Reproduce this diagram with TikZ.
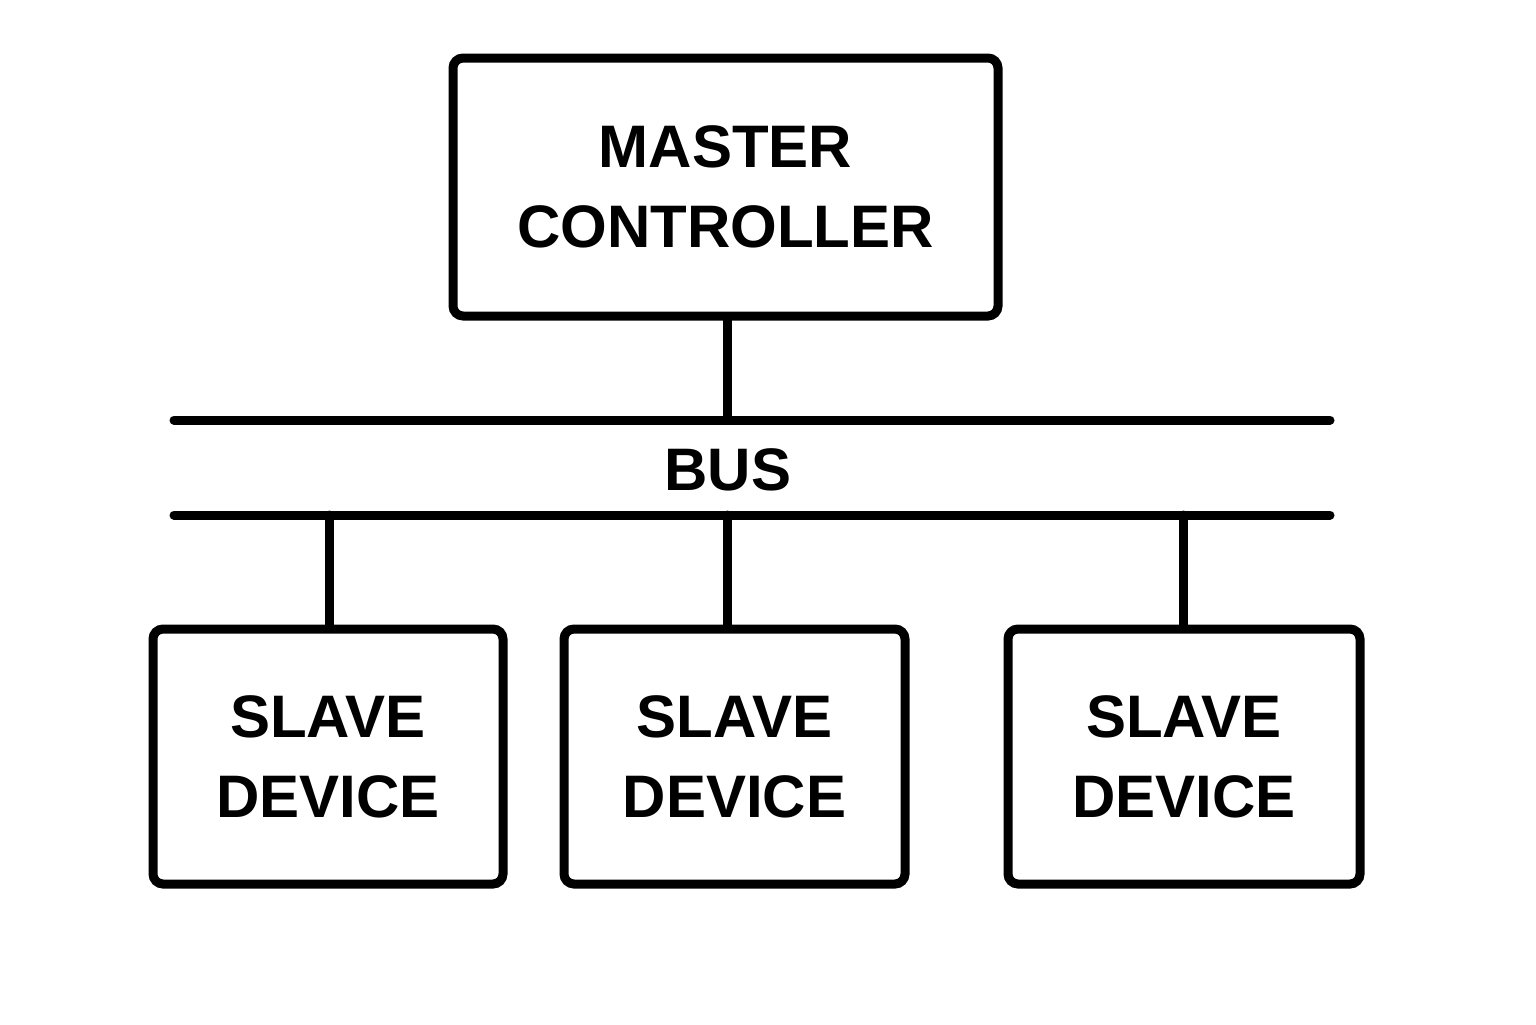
\documentclass[tikz,border=0pt]{standalone}
\usepackage{fontspec}
\setmainfont{Liberation Sans}
\begin{document}
\begin{tikzpicture}[x=0.5pt,y=-0.5pt,
  box/.style={draw,line width=4.5pt,rounded corners=5pt,inner sep=0pt},
  ln/.style={line width=4.5pt,line cap=round},
  lbl/.style={font=\fontsize{30}{40}\selectfont\bfseries,align=center}]
\useasboundingbox[fill=white] (0,0) rectangle (1536,1024);
\node[box,minimum width=545pt*0.5,minimum height=258pt*0.5] (m) at (725.5,187) {};
\node[lbl] (mt) at (725.5,187) {MASTER\\CONTROLLER};
\foreach \n/\x/\w in {s1/328/350,s2/734.5/341,s3/1184/352}{
  \node[box,minimum width=\w pt*0.5,minimum height=255pt*0.5] (\n) at (\x,756.5) {};
  \node[lbl] (\n t) at (\x,756.5) {SLAVE\\DEVICE};
}
\coordinate (b1l) at (174,420); \coordinate (b1r) at (1330,420);
\coordinate (b2l) at (174,515); \coordinate (b2r) at (1330,515);
\coordinate (jm) at (727,420);
\coordinate (j1) at (329,515); \coordinate (j2) at (727,515); \coordinate (j3) at (1183,515);
\draw[ln] (b1l) -- (b1r);
\draw[ln] (b2l) -- (b2r);
\node[lbl] (bus) at (728,470) {BUS};
\draw[ln] (m.south -| jm) -- (jm);
\draw[ln] (j1) -- (j1 |- s1.north);
\draw[ln] (j2) -- (j2 |- s2.north);
\draw[ln] (j3) -- (j3 |- s3.north);
\end{tikzpicture}
\end{document}
